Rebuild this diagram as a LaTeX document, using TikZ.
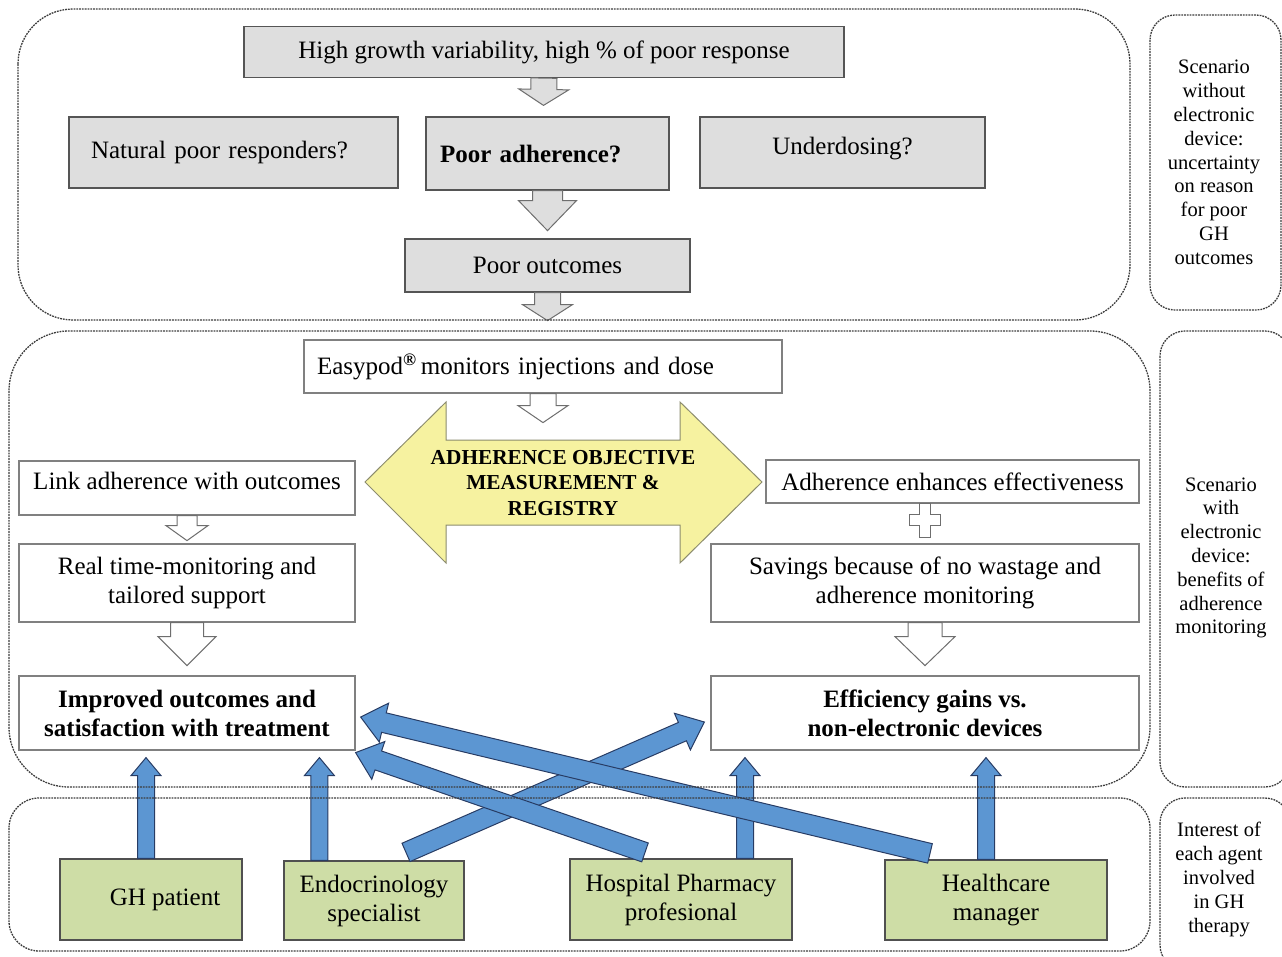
\documentclass[tikz,border=0pt]{standalone}
\usepackage{fontspec}
\setmainfont{Liberation Serif}
\usetikzlibrary{calc}

% fat arrow from #2 to #3: shaft half width #4, head half width #5, head length #6
\newcommand{\fatarrow}[6][]{%
  \path ($(#3)!#6!(#2)$) coordinate (fa-h);
  \draw [#1] ($(#2)!#4!90:(#3)$) -- ($(fa-h)!#4!90:(#3)$) -- ($(fa-h)!#5!90:(#3)$) -- (#3)
    -- ($(fa-h)!#5!-90:(#3)$) -- ($(fa-h)!#4!-90:(#3)$) -- ($(#2)!#4!-90:(#3)$) -- cycle;
}

\begin{document}
\begin{tikzpicture}[x=1pt,y=1pt,yscale=-1,xscale=1,
  font=\fontsize{25}{29}\selectfont,
  panel/.style={draw={rgb,255:red,60;green,60;blue,60}, line width=1.3pt, dash pattern=on 1.8pt off 1pt},
  greybox/.style={draw={rgb,255:red,85;green,85;blue,85}, fill={rgb,255:red,222;green,222;blue,222}, line width=1.2pt, inner sep=2pt, align=center},
  whitebox/.style={draw={rgb,255:red,128;green,128;blue,128}, fill=white, line width=1.2pt, inner sep=2pt, align=center},
  agentbox/.style={draw={rgb,255:red,80;green,80;blue,80}, fill={rgb,255:red,206;green,221;blue,166}, line width=1.2pt, inner sep=2pt, align=center},
  greyarrow/.style={draw={rgb,255:red,110;green,110;blue,110}, fill={rgb,255:red,222;green,222;blue,222}, line width=1pt},
  hollowarrow/.style={draw={rgb,255:red,110;green,110;blue,110}, fill=white, line width=1pt},
  bluearrow/.style={draw={rgb,255:red,40;green,60;blue,100}, fill={rgb,255:red,92;green,150;blue,210}, line width=1pt},
  boldtext/.style={font=\fontsize{25}{29}\selectfont\bfseries},
  sidetext/.style={font=\fontsize{20.5}{23.8}\selectfont, align=center}]
\useasboundingbox (0,0) rectangle (1282,956);

% Top scenario
\node [greybox, minimum width=600pt, minimum height=51pt] (hg) at (544,52) {High growth variability, high \% of poor response};
\node [greybox, minimum width=329pt, minimum height=71pt, inner xsep=22pt, text width=285pt, align=left] (npr) at (233.5,152.5) {Natural poor responders?};
\node [greybox, boldtext, minimum width=243pt, minimum height=73pt, inner xsep=14pt, text width=215pt, align=left] (pa) at (547.5,153.5) {Poor adherence?};
\node [greybox, minimum width=285pt, minimum height=71pt, text depth=14pt] (ud) at (842.5,152.5) {Underdosing?};
\node [greybox, minimum width=285pt, minimum height=53pt] (po) at (547.5,265.5) {Poor outcomes};

\coordinate (g1a) at (hg.south);
\coordinate (g1b) at ($(pa.north)+(-4,-11)$);
\fatarrow[greyarrow]{g1a}{g1b}{13pt}{25pt}{16pt}
\coordinate (g2a) at (pa.south);
\coordinate (g2b) at ($(pa.south)+(0,40)$);
\fatarrow[greyarrow]{g2a}{g2b}{15pt}{29pt}{30pt}
\coordinate (g3a) at (po.south);
\coordinate (g3b) at ($(po.south)+(0,28)$);
\fatarrow[greyarrow]{g3a}{g3b}{13pt}{25pt}{16pt}

% Middle scenario
\node [whitebox, minimum width=478pt, minimum height=53pt, inner xsep=13pt, text width=452pt, align=left] (ep) at (543,366.5) {Easypod\textsuperscript{\textbf{\textregistered}}\,monitors injections and dose};

%Shape: Double arrow
\draw [draw={rgb,255:red,140;green,140;blue,110}, fill={rgb,255:red,246;green,242;blue,160}, line width=1pt]
  (365,482) -- (446,402) -- (446,440) -- (680,440) -- (680,402) -- (762,482) -- (680,563) -- (680,525) -- (446,525) -- (446,563) -- cycle;
\node [align=center, font=\fontsize{21.3}{25.5}\selectfont\bfseries] (adh) at (563,483) {ADHERENCE OBJECTIVE\\MEASUREMENT \&\\REGISTRY};

\coordinate (e1a) at (ep.south);
\coordinate (e1b) at ($(ep.south)+(0,29)$);
\fatarrow[hollowarrow]{e1a}{e1b}{13pt}{25pt}{17pt}

\node [whitebox, minimum width=336pt, minimum height=54pt, text depth=14pt] (link) at (187,488) {Link adherence with outcomes};
\node [whitebox, minimum width=336pt, minimum height=78pt] (rt) at (187,583) {Real time-monitoring and\\tailored support};
\node [whitebox, boldtext, minimum width=336pt, minimum height=74pt] (imp) at (187,713) {Improved outcomes and\\satisfaction with treatment};
\node [whitebox, minimum width=373pt, minimum height=43pt] (aee) at (952.5,481.5) {Adherence enhances effectiveness};
\node [whitebox, minimum width=428pt, minimum height=78pt] (sav) at (925,583) {Savings because of no wastage and\\adherence monitoring};
\node [whitebox, boldtext, minimum width=428pt, minimum height=74pt] (eff) at (925,713) {Efficiency gains vs.\\non-electronic devices};

\coordinate (l1a) at (link.south);
\coordinate (l1b) at ($(link.south)+(0,25)$);
\fatarrow[hollowarrow]{l1a}{l1b}{10pt}{21pt}{15pt}
\coordinate (r1a) at (rt.south);
\coordinate (r1b) at ($(rt.south)+(0,43)$);
\fatarrow[hollowarrow]{r1a}{r1b}{16.5pt}{29pt}{29pt}
\coordinate (s1a) at (sav.south);
\coordinate (s1b) at ($(sav.south)+(0,43)$);
\fatarrow[hollowarrow]{s1a}{s1b}{17pt}{30pt}{29pt}

%Shape: Plus
\draw [hollowarrow, shift={(925,520)}] (-5.5,-17) -- (5.5,-17) -- (5.5,-5.5) -- (15.5,-5.5) -- (15.5,5.5) -- (5.5,5.5) -- (5.5,17)
  -- (-5.5,17) -- (-5.5,5.5) -- (-15.5,5.5) -- (-15.5,-5.5) -- (-5.5,-5.5) -- cycle;

% Agents
\node [agentbox, minimum width=182pt, minimum height=81pt] (ghp) at (151,899.5) {\hspace*{28pt}GH patient};
\node [agentbox, minimum width=180pt, minimum height=79pt] (endo) at (374,900.5) {Endocrinology\\specialist};
\node [agentbox, minimum width=222pt, minimum height=81pt] (hosp) at (681,899.5) {Hospital Pharmacy\\profesional};
\node [agentbox, minimum width=222pt, minimum height=80pt] (hcm) at (996,900) {Healthcare\\manager};

% Blue arrows
\coordinate (a1) at ($(ghp.north)+(-5,0)$);
\coordinate (b1) at ($(a1 |- imp.south)+(0,7)$);
\fatarrow[bluearrow]{a1}{b1}{8.5pt}{15pt}{18pt}
\coordinate (a2) at ($(endo.north west)+(36,0)$);
\coordinate (b2) at ($(a2 |- imp.south)+(0,7)$);
\fatarrow[bluearrow]{a2}{b2}{8.5pt}{15pt}{18pt}
\coordinate (a3) at ($(hosp.north)+(64,0)$);
\coordinate (b3) at ($(a3 |- eff.south)+(0,7)$);
\fatarrow[bluearrow]{a3}{b3}{8.5pt}{15pt}{18pt}
\coordinate (a4) at ($(hcm.north)+(-10,0)$);
\coordinate (b4) at ($(a4 |- eff.south)+(0,7)$);
\fatarrow[bluearrow]{a4}{b4}{8.5pt}{15pt}{18pt}

\coordinate (a5) at ($(endo.north)+(32,-8)$);
\coordinate (b5) at ($(eff.west)+(-6,9)$);
\fatarrow[bluearrow]{a5}{b5}{10pt}{20pt}{24pt}
\coordinate (a6) at ($(hosp.north)+(-36,-6)$);
\coordinate (b6) at ($(imp.south east)+(0,2)$);
\fatarrow[bluearrow]{a6}{b6}{10pt}{20pt}{24pt}
\coordinate (a7) at ($(hcm.north)+(-66,-6)$);
\coordinate (b7) at ($(imp.east)+(5,4)$);
\fatarrow[bluearrow]{a7}{b7}{10pt}{20pt}{24pt}

%Shape: Rounded panels
\draw [panel, rounded corners=55] (18,9) rectangle (1130,320);
\draw [panel, rounded corners=25] (1150,15) rectangle (1281,310);
\draw [panel, rounded corners=60] (9,331) rectangle (1150,787);
\draw [panel, rounded corners=25] (1160,331) rectangle (1290,787);
\draw [panel, rounded corners=30] (9,798) rectangle (1150,951);
\draw [panel, rounded corners=25] (1160,798) rectangle (1290,970);

% Text Node
\node [sidetext] (sc1) at (1214,162.5) {Scenario\\without\\electronic\\device:\\uncertainty\\on reason\\for poor\\GH\\outcomes};
% Text Node
\node [sidetext] (sc2) at (1221,558) {Scenario\\with\\electronic\\device:\\benefits of\\adherence\\monitoring};
% Text Node
\node [sidetext] (sc3) at (1219,879.5) {Interest of\\each agent\\involved\\in GH\\therapy};

\end{tikzpicture}
\end{document}
